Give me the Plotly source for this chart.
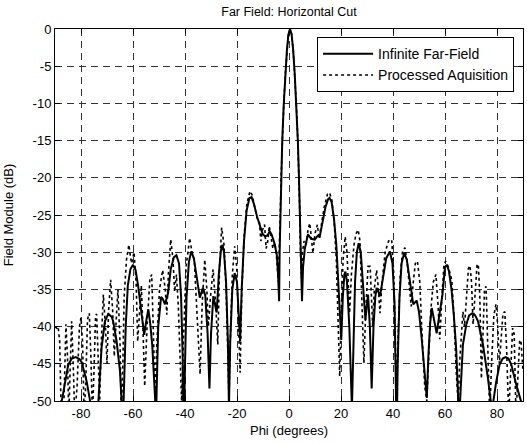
import plotly.graph_objects as go

# ---- Infinite Far-Field (solid) ----
phi_inf = [-90, -88.3, -87.4, -86.2, -84.9, -83.5, -82, -80.5, -79.7, -77.8, -76.5, -75.8,
           -75, -73.3, -72.1, -70.8, -69.5, -68.2, -67.6, -66.3, -65, -64.4, -64,
           -63.6, -62.8, -62, -61, -60, -59, -58, -56.7, -55.7, -54.8, -54.1, -53.4, -52.6, -51.5, -51.2,
           -50.3, -49.2, -48.5, -47.7, -46.5, -45.5, -44.3, -43.3, -42.3, -41.5, -40.9, -40.5, -40,
           -39.4, -38.5, -37.6, -36.6, -35.5, -34.3, -33.1, -32.2, -31.3, -30.6, -30, -29.1, -28.3,
           -27.8, -27, -26.2, -25.6, -25, -24.2, -23.5, -23.1, -22.6, -21.8, -20.9, -20, -19.3, -18.8,
           -18.2, -17.3, -16.3, -15.2, -14.4, -13.5, -12.3, -11.2, -10.2, -9.2, -8.2, -7.4, -6.7, -5.6,
           -4.7, -4.2, -3.8,
           -3.6, -3.3, -3.0, -2.6, -2.0, -1.4, -0.8, -0.2, 0.4, 1.0, 1.6, 2.2, 2.8, 3.4, 3.8, 4.1, 4.4, 4.7, 5.0,
           5.4, 6.1, 7.3, 8.5, 9.9, 11.0, 11.8, 12.8, 14, 15.0, 15.6, 16.4, 17.3, 18.2, 19, 19.6, 20.1,
           20.7, 21.3, 21.7, 22.3, 23.2, 23.8, 24.2, 24.7, 25.4, 26.1, 26.8, 27.6, 28.4, 29.4, 30.4,
           31.1, 31.8, 32.5, 33.2, 33.7, 35, 36, 37.4, 38.8, 39.8, 40.6, 41.1, 41.4, 41.8, 42.5, 43.3,
           44.3, 45.3, 46.5, 47.8, 49.1, 50, 51, 52, 53, 53.6, 54.3, 54.9, 55.8, 56.8, 57.8, 59, 60,
           60.7, 61.5, 62.5, 63.4, 64.3, 65, 65.4,
           65.8, 66.9, 68.2, 69.3, 70.5, 71.6, 72.7, 74.6, 76.5, 77.6, 78.1,
           78.6, 79.7, 81, 82.2, 83.3, 84.4, 85.5, 87.4, 89.2, 89.6, 90]
db_inf = [-52, -60, -50, -47.4, -45.1, -44.3, -44.1, -44.4, -44.8, -47.4, -50, -60,
          -62, -50, -42.9, -39.3, -38.3, -38.7, -39.3, -42, -46, -50, -62,
          -50, -40, -34.5, -32.3, -31.7, -32.4, -34.6, -38.2, -41.1, -39, -37.7, -39.5, -42.5, -49.6, -53,
          -40, -36, -36.3, -37, -35.5, -32.3, -30.7, -30.4, -31.5, -36, -44, -56, -45,
          -36, -31.3, -29.9, -30.8, -33.5, -36.1, -34.8, -35.8, -41, -48.3, -41, -35.9, -37.3,
          -38.1, -33, -29.8, -29, -30, -34, -42, -51, -42, -35, -32.8, -34, -38, -42,
          -35, -28.5, -24.4, -22.7, -22.6, -23.5, -25.2, -26.5, -27.5, -27.9, -27.7, -27.2, -27.6, -28.8,
          -30.3, -33, -36.6,
          -30, -24, -19.5, -15, -10, -6, -2.8, -0.7, 0, -0.7, -2.8, -6, -10, -15, -19.5, -24, -30, -34, -36.6,
          -32, -29.5, -27.6, -28.2, -28.3, -27.8, -27.9, -26.3, -24, -22.9, -22.7, -23.3, -25.5, -29, -34, -38, -41.8,
          -36, -33, -32.6, -34, -40, -47, -51, -44, -34, -30, -28.8, -30, -33.5, -39.1, -35.7,
          -40, -48.3, -40, -36, -34.8, -35.9, -33.5, -30.8, -29.9, -31.5, -37, -45, -55, -45, -36, -31.5,
          -30.1, -31, -33.8, -37, -36.5, -38, -41.5, -45.5, -49.6, -44, -39.5, -37.5, -39, -40.9, -38.5, -35.8, -32,
          -31.7, -32.5, -35, -38.5, -43, -49, -60,
          -50, -42.4, -39.7, -38.5, -38.2, -38.5, -39.3, -42.4, -46.9, -50, -62,
          -50, -47.4, -45.1, -44.3, -44.1, -44.3, -45.1, -47.8, -50, -60, -55]

# ---- Processed Aquisition (dotted) ----
phi_acq = [-90, -89.3, -88.8, -88.2, -87.6, -87, -86.4, -85.8, -85.2, -84.7, -84.2, -83.6, -83, -82.4,
           -81.5, -80.6, -80, -79.4, -78.8, -78.2, -77.5, -76.8, -76.2, -75.6, -75, -74.4, -74, -73.4,
           -72.8, -72.2, -71.4, -70.6, -70, -69.4, -68.6, -67.8, -67.2, -66.6, -65.8, -65, -64.5, -63.9,
           -63.4, -62.5, -61.6, -60.8,
           -60.5, -59.6, -58.8, -58.2, -57.6, -56.8, -56.2, -55.5, -54.6, -53.5, -52.8, -52.2, -51.5,
           -50.8, -49.8, -48.6, -47.6, -47, -46.4, -45.5, -44.6, -44, -43.3, -42.6, -41.8, -41.3, -40.6,
           -39.6, -38.2, -37.3, -36.4, -35.6, -34.8, -34.2, -33.4, -32.4, -31.6, -31, -30.2, -29.2,
           -28.2, -27.4, -26.7, -25.9, -25, -24.2, -23.5, -23.1, -22.6, -21.8, -20.9, -20.1, -19.4,
           -18.8, -18.2, -17.3, -16.2, -15, -14.2, -13.2, -12.2, -11.4, -10.8, -10.2, -9.4, -8.8, -8.2,
           -7.6, -7, -6.2, -5.4, -4.7, -4.1, -3.7,
           -3.3, -3.0, -2.6, -2.0, -1.4, -0.8, -0.2, 0.4, 1.0, 1.6, 2.2, 2.8, 3.4, 3.8, 4.1, 4.4,
           4.8, 5.2, 5.8, 6.6, 7.3, 8, 8.6, 9.2, 10, 10.9, 11.6, 12.4, 13.5, 14.8, 15.6, 16.5, 17.4,
           18.2, 19, 19.5, 20.1, 20.8, 21.6, 22.3, 22.9, 23.3, 24, 25, 25.8, 26.6, 27.3, 28, 28.8,
           29.5, 30.4, 31.2, 31.7, 32.2, 32.8, 33.7, 34.4, 35, 35.8, 37, 38.3, 39.5, 40.3, 40.9, 41.4,
           41.9, 42.8, 43.7, 44.6, 45.5, 46.3, 47, 47.8, 48.6, 49.4, 50.3, 51.3, 52.2, 53, 53.7, 54.5,
           55.5, 56.5, 57.3, 58, 58.8, 59.6, 60.3, 61.3, 62.6, 63.5, 64.3, 65.1, 65.6, 66.2, 66.9, 67.5,
           68.2, 69.0, 69.6, 70.2, 70.8, 71.6, 72.3, 72.8, 73.4, 74, 74.6, 75.2, 75.8, 76.5, 77.2, 77.9,
           78.8, 79.6, 80.3, 80.9, 81.6, 82.3, 83, 83.7, 84.5, 85.3, 86, 86.6, 87.3, 88, 88.7, 89.2, 89.7, 90]
db_acq = [-40, -40.2, -40, -42, -52, -55, -48, -39.7, -44, -52, -46, -39.3, -45, -52,
          -48, -40, -38.8, -42, -52, -48, -39, -38.2, -44, -52, -46, -38.5, -38.3, -44,
          -50, -42, -35.7, -40, -45, -38, -33.7, -38, -44, -40, -35, -42, -52, -45,
          -36, -31, -29, -31,
          -31.5, -30, -34, -42, -38, -34.5, -40, -48, -40, -33.5, -33, -40, -49,
          -42, -35, -32.4, -35, -38.4, -33, -28.3, -31, -35.3, -33, -37, -45, -50, -42,
          -32, -28.1, -30, -31.2, -37, -43, -46.4, -37, -31, -35, -40, -36, -32.3,
          -37, -42.4, -32, -26.7, -29, -35, -44, -50, -42, -33, -29.2, -32, -40,
          -46.2, -36, -28, -23.5, -21.8, -22.3, -23.8, -25.5, -26, -28.5, -27, -26.3, -29.5, -28.6,
          -26.5, -28, -29.5, -28.7, -31, -34, -30,
          -24, -19.5, -15, -10, -6, -2.8, -0.7, 0, -0.7, -2.8, -6, -10, -15, -19.5, -24, -30,
          -33.5, -30, -28.5, -29, -27, -26.1, -28.5, -30.1, -27.5, -26.3, -28.2, -26.5, -24, -22.2, -22, -23, -26,
          -31, -40, -46.7, -38, -31, -27.9, -30, -35, -38.2, -33, -29, -27.5, -27, -28.5, -35, -44.9,
          -38, -31.9, -31.9, -36, -40, -35, -32.4, -35, -38.2, -34, -30, -28.5, -28.3, -33, -42, -50.3,
          -42, -33, -29.8, -29.4, -31.5, -35, -37.3, -34, -31.5, -31.2, -34, -42, -48, -50, -45, -38,
          -34, -33, -37, -41.7, -36, -31.6, -31.2, -32, -33.7, -39, -46, -50.5, -45, -41, -38, -40,
          -36, -32.2, -31.8, -34, -39.7, -35, -31.8, -31.6, -36, -47, -42, -35, -34.6, -42, -52, -45,
          -38.5, -37, -40, -45, -41, -38.2, -38, -43, -52, -45, -40.2, -41, -52, -47, -42, -41.8, -44, -46]

x_ticks = [-80, -60, -40, -20, 0, 20, 40, 60, 80]
y_ticks = [0, -5, -10, -15, -20, -25, -30, -35, -40, -45, -50]

FONT = "Liberation Sans, Arial, Helvetica, sans-serif"

fig = go.Figure()
fig.add_trace(go.Scatter(x=phi_inf, y=db_inf, mode="lines", name="Infinite Far-Field",
                         line=dict(color="black", width=2)))
fig.add_trace(go.Scatter(x=phi_acq, y=db_acq, mode="lines", name="Processed Aquisition",
                         line=dict(color="black", width=1.6, dash="dot")))

axis_common = dict(showline=True, linecolor="black", linewidth=1, mirror="ticks",
                   ticks="inside", ticklen=5, tickcolor="black", tickwidth=1,
                   showgrid=True, gridcolor="#333333", gridwidth=1, griddash="7px,5px",
                   zeroline=False, tickfont=dict(family=FONT, size=13, color="black"))

fig.update_xaxes(range=[-90, 90], tickvals=x_ticks, ticktext=[str(v) for v in x_ticks],
                 title=dict(text="Phi (degrees)", font=dict(family=FONT, size=13, color="black"), standoff=6),
                 **axis_common)
fig.update_yaxes(range=[-50, 0], tickvals=y_ticks, ticktext=[str(v) for v in y_ticks],
                 title=dict(text="Field Module (dB)", font=dict(family=FONT, size=13, color="black"), standoff=16),
                 **axis_common)

fig.update_layout(
    width=527, height=444,
    margin=dict(l=55, r=4, t=29, b=43),
    paper_bgcolor="white", plot_bgcolor="white",
    title=dict(text="Far Field: Horizontal Cut", x=0.5, xref="paper", xanchor="center",
               y=1 - 12 / 444, yref="container", yanchor="middle",
               font=dict(family=FONT, size=12.5, color="black")),
    legend=dict(x=0.56, y=0.978, xanchor="left", yanchor="top",
                bgcolor="white", bordercolor="black", borderwidth=1,
                font=dict(family=FONT, size=14, color="black"),
                tracegroupgap=0, itemwidth=50),
    showlegend=True,
)

fig.write_html("out.html")
